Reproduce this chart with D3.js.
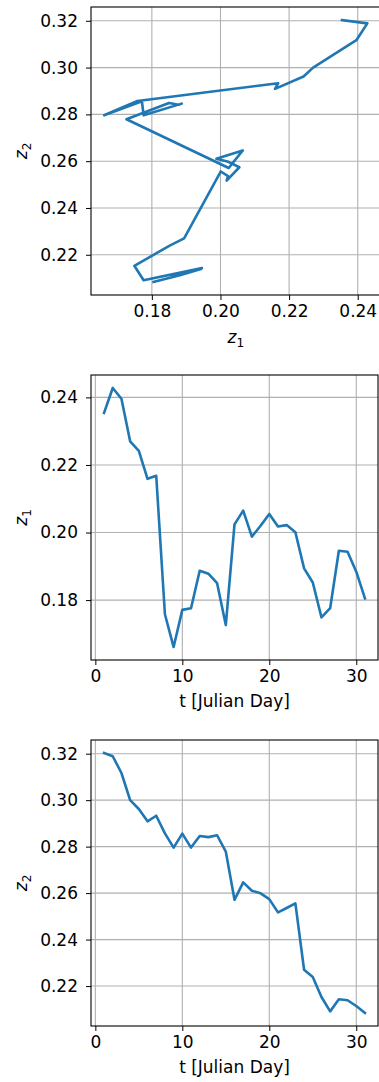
<!DOCTYPE html>
<html>
<head>
<meta charset="utf-8">
<script src="https://cdn.jsdelivr.net/npm/d3@7"></script>
<style>
  body { margin: 0; background: #fff; }
  svg { display: block; font-family: "DejaVu Sans", sans-serif; }
  .tick text { fill: #000; }
</style>
</head>
<body>
<div class="chart"></div>
<script>
// daily values
const days = d3.range(1, 32);
const z1 = [0.2354, 0.2428, 0.2396, 0.2270, 0.2242, 0.2159, 0.2168, 0.1758, 0.1661, 0.1771,
            0.1776, 0.1887, 0.1878, 0.1850, 0.1726, 0.2024, 0.2065, 0.1988, 0.2020, 0.2055,
            0.2018, 0.2022, 0.2001, 0.1894, 0.1852, 0.1749, 0.1776, 0.1946, 0.1943, 0.1884, 0.1805];
const z2 = [0.3203, 0.3189, 0.3117, 0.3000, 0.2962, 0.2909, 0.2933, 0.2857, 0.2796, 0.2856,
            0.2796, 0.2846, 0.2841, 0.2849, 0.2779, 0.2571, 0.2646, 0.2610, 0.2599, 0.2574,
            0.2517, 0.2536, 0.2556, 0.2270, 0.2239, 0.2153, 0.2091, 0.2143, 0.2139, 0.2114, 0.2084];

const z1Ticks = [0.18, 0.20, 0.22, 0.24];
const z2Ticks = [0.22, 0.24, 0.26, 0.28, 0.30, 0.32];
const dayTicks = [0, 10, 20, 30];

const W = 379, H = 1082;
const fontSize = '17px';
const svg = d3.select('.chart').append('svg')
  .attr('width', W)
  .attr('height', H);

// matplotlib-style 5% margins
function padded(vals) {
  const [lo, hi] = d3.extent(vals);
  const m = (hi - lo) * 0.05;
  return [lo - m, hi + m];
}

function label(g, main, sub) {
  g.append('tspan').attr('font-style', 'italic').text(main);
  g.append('tspan').attr('font-size', '12px').attr('dy', 4).text(sub);
}

function panel(o) {
  const xScale = d3.scaleLinear().domain(o.xDomain).range([o.left, o.right]);
  const yScale = d3.scaleLinear().domain(o.yDomain).range([o.bottom, o.top]);
  const g = svg.append('g');

  // grid
  g.selectAll('.vgrid').data(o.xTicks).enter().append('line')
    .attr('x1', d => xScale(d)).attr('x2', d => xScale(d))
    .attr('y1', o.top).attr('y2', o.bottom)
    .attr('stroke', '#b0b0b0').attr('stroke-width', 1.1);
  g.selectAll('.hgrid').data(o.yTicks).enter().append('line')
    .attr('x1', o.left).attr('x2', o.right)
    .attr('y1', d => yScale(d)).attr('y2', d => yScale(d))
    .attr('stroke', '#b0b0b0').attr('stroke-width', 1.1);

  const line = d3.line()
    .x(d => xScale(d[0]))
    .y(d => yScale(d[1]));
  g.append('path')
    .datum(d3.zip(o.xs, o.ys))
    .attr('d', line)
    .attr('fill', 'none')
    .attr('stroke', '#1f77b4')
    .attr('stroke-width', 2.6)
    .attr('stroke-linejoin', 'round')
    .attr('stroke-linecap', 'square');

  g.append('rect')
    .attr('x', o.left).attr('y', o.top)
    .attr('width', o.right - o.left).attr('height', o.bottom - o.top)
    .attr('fill', 'none').attr('stroke', '#000').attr('stroke-width', 1.1);

  const xAxis = d3.axisBottom(xScale)
    .tickValues(o.xTicks)
    .tickFormat(o.xFmt)
    .tickSize(5).tickPadding(5);
  g.append('g')
    .attr('transform', `translate(0, ${o.bottom})`)
    .call(xAxis)
    .call(a => a.select('.domain').remove())
    .call(a => a.selectAll('text').attr('font-size', fontSize).attr('font-family', 'DejaVu Sans'));

  const yAxis = d3.axisLeft(yScale)
    .tickValues(o.yTicks)
    .tickFormat(d3.format('.2f'))
    .tickSize(5).tickPadding(8);
  g.append('g')
    .attr('transform', `translate(${o.left}, 0)`)
    .call(yAxis)
    .call(a => a.select('.domain').remove())
    .call(a => a.selectAll('text').attr('font-size', fontSize).attr('font-family', 'DejaVu Sans'));

  const xl = g.append('text')
    .attr('x', (o.left + o.right) / 2)
    .attr('y', o.bottom + o.xLabelDy)
    .attr('text-anchor', 'middle')
    .attr('font-size', fontSize);
  if (o.xSub) label(xl, o.xLabel, o.xSub); else xl.text(o.xLabel);

  const yl = g.append('text')
    .attr('transform', `translate(27, ${(o.top + o.bottom) / 2}) rotate(-90)`)
    .attr('text-anchor', 'middle')
    .attr('font-size', fontSize);
  label(yl, o.yLabel, o.ySub);
}

panel({
  xs: z1, ys: z2,
  xDomain: padded(z1), yDomain: padded(z2),
  left: 91, right: 380.5, top: 7, bottom: 295,
  xTicks: z1Ticks, yTicks: z2Ticks, xFmt: d3.format('.2f'),
  xLabel: 'z', xSub: '1', xLabelDy: 48,
  yLabel: 'z', ySub: '2'
});

panel({
  xs: days, ys: z1,
  xDomain: padded(days), yDomain: padded(z1),
  left: 91, right: 378, top: 375, bottom: 660,
  xTicks: dayTicks, yTicks: z1Ticks, xFmt: d3.format('d'),
  xLabel: 't [Julian Day]', xLabelDy: 47,
  yLabel: 'z', ySub: '1'
});

panel({
  xs: days, ys: z2,
  xDomain: padded(days), yDomain: padded(z2),
  left: 91, right: 378, top: 740, bottom: 1026,
  xTicks: dayTicks, yTicks: z2Ticks, xFmt: d3.format('d'),
  xLabel: 't [Julian Day]', xLabelDy: 47,
  yLabel: 'z', ySub: '2'
});
</script>
</body>
</html>
